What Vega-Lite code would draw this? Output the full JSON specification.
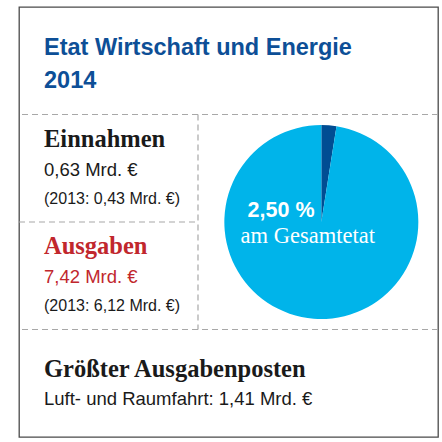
{
  "$schema": "https://vega.github.io/schema/vega-lite/v6.json",
  "width": 442,
  "height": 442,
  "autosize": {"type": "fit", "contains": "padding"},
  "padding": {"left": 18, "top": 7, "right": 3, "bottom": 5},
  "background": "#ffffff",
  "config": {"view": {"stroke": "#4a4a4a", "strokeWidth": 1.3}},
  "datasets": {
    "texte": [
      {"bereich": "Titel", "spalte": "links", "zeile": "titel", "text": "Etat Wirtschaft und Energie\n2014"},
      {"bereich": "Einnahmen", "spalte": "links", "zeile": "kopf", "text": "Einnahmen"},
      {"bereich": "Einnahmen", "spalte": "links", "zeile": "wert", "text": "0,63 Mrd. €"},
      {"bereich": "Einnahmen", "spalte": "links", "zeile": "vorjahr", "text": "(2013: 0,43 Mrd. €)"},
      {"bereich": "Ausgaben", "spalte": "links", "zeile": "kopf", "text": "Ausgaben"},
      {"bereich": "Ausgaben", "spalte": "links", "zeile": "wert", "text": "7,42 Mrd. €"},
      {"bereich": "Ausgaben", "spalte": "links", "zeile": "vorjahr", "text": "(2013: 6,12 Mrd. €)"},
      {"bereich": "Größter Ausgabenposten", "spalte": "links", "zeile": "kopf", "text": "Größter Ausgabenposten"},
      {"bereich": "Größter Ausgabenposten", "spalte": "links", "zeile": "wert", "text": "Luft- und Raumfahrt: 1,41 Mrd. €"}
    ],
    "etat": [
      {"spalte": "rechts", "posten": "Wirtschaft und Energie", "anteil": 2.5},
      {"spalte": "rechts", "posten": "übriger Gesamtetat", "anteil": 97.5}
    ],
    "beschriftung": [
      {"spalte": "rechts", "zeile": "prozent", "text": "2,50 %"},
      {"spalte": "rechts", "zeile": "zusatz", "text": "am Gesamtetat"}
    ],
    "trennlinien": [
      {"bereich": "Einnahmen"},
      {"bereich": "Größter Ausgabenposten"}
    ],
    "trennlinie_links": [
      {"bereich": "Ausgaben", "von": "links", "bis": "rechts"}
    ],
    "trennlinie_senkrecht": [
      {"spalte": "rechts", "von": "Einnahmen", "bis": "Größter Ausgabenposten"}
    ]
  },
  "resolve": {"scale": {"color": "independent"}},
  "layer": [
    {
      "data": {"name": "trennlinien"},
      "mark": {"type": "rule", "color": "#a8a8a8", "strokeWidth": 1.2, "strokeDash": [6, 4]},
      "encoding": {
        "y": {"field": "bereich", "type": "nominal", "bandPosition": 0, "axis": null,
              "scale": {"type": "band", "domain": ["Titel", "Einnahmen", "Ausgaben", "Größter Ausgabenposten"], "paddingInner": 0, "paddingOuter": 0}}
      }
    },
    {
      "data": {"name": "trennlinie_links"},
      "mark": {"type": "rule", "color": "#a8a8a8", "strokeWidth": 1.2, "strokeDash": [6, 4]},
      "encoding": {
        "x": {"field": "von", "type": "nominal", "bandPosition": 0, "axis": null,
              "scale": {"type": "band", "domain": ["links", "rechts"], "range": [0, 358], "paddingInner": 0, "paddingOuter": 0}},
        "x2": {"field": "bis", "bandPosition": 0},
        "y": {"field": "bereich", "type": "nominal", "bandPosition": 0, "axis": null,
              "scale": {"type": "band", "domain": ["Titel", "Einnahmen", "Ausgaben", "Größter Ausgabenposten"], "paddingInner": 0, "paddingOuter": 0}}
      }
    },
    {
      "data": {"name": "trennlinie_senkrecht"},
      "mark": {"type": "rule", "color": "#a8a8a8", "strokeWidth": 1.2, "strokeDash": [6, 4]},
      "encoding": {
        "x": {"field": "spalte", "type": "nominal", "bandPosition": 0, "axis": null,
              "scale": {"type": "band", "domain": ["links", "rechts"], "range": [0, 358], "paddingInner": 0, "paddingOuter": 0}},
        "y": {"field": "von", "type": "nominal", "bandPosition": 0, "axis": null,
              "scale": {"type": "band", "domain": ["Titel", "Einnahmen", "Ausgaben", "Größter Ausgabenposten"], "paddingInner": 0, "paddingOuter": 0}},
        "y2": {"field": "bis", "bandPosition": 0}
      }
    },
    {
      "data": {"name": "texte"},
      "transform": [{"filter": "datum.zeile === 'titel'"}],
      "mark": {"type": "text", "align": "left", "baseline": "alphabetic", "dx": 25, "dy": 48, "lineBreak": "\n", "lineHeight": 32.5,
               "font": "Liberation Sans", "fontWeight": "bold", "fontSize": 23.5, "color": "#0d4f97"},
      "encoding": {
        "x": {"field": "spalte", "type": "nominal", "bandPosition": 0, "axis": null,
              "scale": {"type": "band", "domain": ["links", "rechts"], "range": [0, 358], "paddingInner": 0, "paddingOuter": 0}},
        "y": {"field": "bereich", "type": "nominal", "bandPosition": 0, "axis": null,
              "scale": {"type": "band", "domain": ["Titel", "Einnahmen", "Ausgaben", "Größter Ausgabenposten"], "paddingInner": 0, "paddingOuter": 0}},
        "text": {"field": "text"}
      }
    },
    {
      "data": {"name": "texte"},
      "transform": [{"filter": "datum.zeile === 'kopf' && datum.bereich !== 'Größter Ausgabenposten'"}],
      "mark": {"type": "text", "align": "left", "baseline": "alphabetic", "dx": 25, "dy": 32,
               "font": "Liberation Serif", "fontWeight": "bold", "fontSize": 24.5},
      "encoding": {
        "x": {"field": "spalte", "type": "nominal", "bandPosition": 0, "axis": null,
              "scale": {"type": "band", "domain": ["links", "rechts"], "range": [0, 358], "paddingInner": 0, "paddingOuter": 0}},
        "y": {"field": "bereich", "type": "nominal", "bandPosition": 0, "axis": null,
              "scale": {"type": "band", "domain": ["Titel", "Einnahmen", "Ausgaben", "Größter Ausgabenposten"], "paddingInner": 0, "paddingOuter": 0}},
        "color": {"field": "bereich", "type": "nominal", "legend": null,
                  "scale": {"domain": ["Titel", "Einnahmen", "Ausgaben", "Größter Ausgabenposten"], "range": ["#0d4f97", "#1a1a1a", "#c1272d", "#1a1a1a"]}},
        "text": {"field": "text"}
      }
    },
    {
      "data": {"name": "texte"},
      "transform": [{"filter": "datum.zeile === 'wert' && datum.bereich !== 'Größter Ausgabenposten'"}],
      "mark": {"type": "text", "align": "left", "baseline": "alphabetic", "dx": 25, "dy": 61,
               "font": "Liberation Sans", "fontSize": 18.5},
      "encoding": {
        "x": {"field": "spalte", "type": "nominal", "bandPosition": 0, "axis": null,
              "scale": {"type": "band", "domain": ["links", "rechts"], "range": [0, 358], "paddingInner": 0, "paddingOuter": 0}},
        "y": {"field": "bereich", "type": "nominal", "bandPosition": 0, "axis": null,
              "scale": {"type": "band", "domain": ["Titel", "Einnahmen", "Ausgaben", "Größter Ausgabenposten"], "paddingInner": 0, "paddingOuter": 0}},
        "color": {"field": "bereich", "type": "nominal", "legend": null,
                  "scale": {"domain": ["Titel", "Einnahmen", "Ausgaben", "Größter Ausgabenposten"], "range": ["#0d4f97", "#1a1a1a", "#c1272d", "#1a1a1a"]}},
        "text": {"field": "text"}
      }
    },
    {
      "data": {"name": "texte"},
      "transform": [{"filter": "datum.zeile === 'vorjahr'"}],
      "mark": {"type": "text", "align": "left", "baseline": "alphabetic", "dx": 25, "dy": 89,
               "font": "Liberation Sans", "fontSize": 16, "color": "#1a1a1a"},
      "encoding": {
        "x": {"field": "spalte", "type": "nominal", "bandPosition": 0, "axis": null,
              "scale": {"type": "band", "domain": ["links", "rechts"], "range": [0, 358], "paddingInner": 0, "paddingOuter": 0}},
        "y": {"field": "bereich", "type": "nominal", "bandPosition": 0, "axis": null,
              "scale": {"type": "band", "domain": ["Titel", "Einnahmen", "Ausgaben", "Größter Ausgabenposten"], "paddingInner": 0, "paddingOuter": 0}},
        "text": {"field": "text"}
      }
    },
    {
      "data": {"name": "texte"},
      "transform": [{"filter": "datum.zeile === 'kopf' && datum.bereich === 'Größter Ausgabenposten'"}],
      "mark": {"type": "text", "align": "left", "baseline": "alphabetic", "dx": 25, "dy": 47.5,
               "font": "Liberation Serif", "fontWeight": "bold", "fontSize": 24.5, "color": "#1a1a1a"},
      "encoding": {
        "x": {"field": "spalte", "type": "nominal", "bandPosition": 0, "axis": null,
              "scale": {"type": "band", "domain": ["links", "rechts"], "range": [0, 358], "paddingInner": 0, "paddingOuter": 0}},
        "y": {"field": "bereich", "type": "nominal", "bandPosition": 0, "axis": null,
              "scale": {"type": "band", "domain": ["Titel", "Einnahmen", "Ausgaben", "Größter Ausgabenposten"], "paddingInner": 0, "paddingOuter": 0}},
        "text": {"field": "text"}
      }
    },
    {
      "data": {"name": "texte"},
      "transform": [{"filter": "datum.zeile === 'wert' && datum.bereich === 'Größter Ausgabenposten'"}],
      "mark": {"type": "text", "align": "left", "baseline": "alphabetic", "dx": 25, "dy": 75.5,
               "font": "Liberation Sans", "fontSize": 18.5, "color": "#1a1a1a"},
      "encoding": {
        "x": {"field": "spalte", "type": "nominal", "bandPosition": 0, "axis": null,
              "scale": {"type": "band", "domain": ["links", "rechts"], "range": [0, 358], "paddingInner": 0, "paddingOuter": 0}},
        "y": {"field": "bereich", "type": "nominal", "bandPosition": 0, "axis": null,
              "scale": {"type": "band", "domain": ["Titel", "Einnahmen", "Ausgaben", "Größter Ausgabenposten"], "paddingInner": 0, "paddingOuter": 0}},
        "text": {"field": "text"}
      }
    },
    {
      "data": {"name": "etat"},
      "mark": {"type": "arc", "outerRadius": 97},
      "encoding": {
        "x": {"field": "spalte", "type": "nominal", "bandPosition": 0.689, "axis": null,
              "scale": {"type": "band", "domain": ["links", "rechts"], "range": [0, 358], "paddingInner": 0, "paddingOuter": 0}},
        "theta": {"field": "anteil", "type": "quantitative", "stack": true},
        "order": {"field": "anteil", "type": "quantitative", "sort": "ascending"},
        "color": {"field": "posten", "type": "nominal", "legend": null,
                  "scale": {"domain": ["Wirtschaft und Energie", "übriger Gesamtetat"], "range": ["#004d93", "#00b4ea"]}}
      }
    },
    {
      "data": {"name": "beschriftung"},
      "transform": [{"filter": "datum.zeile === 'prozent'"}],
      "mark": {"type": "text", "align": "center", "baseline": "alphabetic", "dy": -5,
               "font": "Liberation Sans", "fontWeight": "bold", "fontSize": 21.5, "color": "#ffffff"},
      "encoding": {
        "x": {"field": "spalte", "type": "nominal", "bandPosition": 0.464, "axis": null,
              "scale": {"type": "band", "domain": ["links", "rechts"], "range": [0, 358], "paddingInner": 0, "paddingOuter": 0}},
        "text": {"field": "text"}
      }
    },
    {
      "data": {"name": "beschriftung"},
      "transform": [{"filter": "datum.zeile === 'zusatz'"}],
      "mark": {"type": "text", "align": "center", "baseline": "alphabetic", "dy": 21,
               "font": "Liberation Serif", "fontSize": 22.5, "color": "#ffffff"},
      "encoding": {
        "x": {"field": "spalte", "type": "nominal", "bandPosition": 0.613, "axis": null,
              "scale": {"type": "band", "domain": ["links", "rechts"], "range": [0, 358], "paddingInner": 0, "paddingOuter": 0}},
        "text": {"field": "text"}
      }
    }
  ]
}
